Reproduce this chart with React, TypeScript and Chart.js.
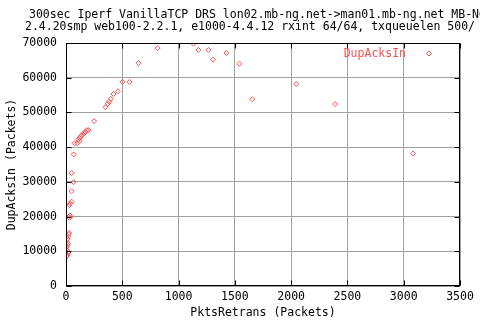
import React, { useEffect, useRef } from "react";
import { Chart, registerables } from "chart.js";

Chart.register(...registerables);

const titleLines = [
  "300sec Iperf VanillaTCP DRS lon02.mb-ng.net->man01.mb-ng.net MB-NG",
  "2.4.20smp web100-2.2.1, e1000-4.4.12 rxint 64/64, txqueuelen 500/",
];
const seriesLabel = "DupAcksIn";
const xAxisTitle = "PktsRetrans (Packets)";
const yAxisTitle = "DupAcksIn (Packets)";

const pktsRetrans = [
  8, 12, 20, 22, 10, 8, 12, 18, 10, 14, 20, 24, 28,
  22, 40, 35, 30, 38, 50, 50, 68, 50,
  68, 76, 100, 121, 110, 120, 130, 140, 150, 160, 171, 186, 201,
  250, 351, 372, 384, 399, 422, 461, 502, 564, 644, 812,
  1132, 1176, 1265, 1307, 1425, 1540, 1655, 2045, 2391, 3083,
];
const dupAcksIn = [
  8600, 8900, 9400, 9800, 10300, 11300, 11800, 12200, 12600, 13500, 14200, 14900, 15300,
  19800, 19800, 20300, 23300, 23800, 24300, 27300, 29900, 32500,
  37900, 41100, 41100, 41700, 42200, 42600, 43000, 43400, 43700, 44000, 44400, 44900, 44900,
  47500, 51500, 52500, 53100, 53900, 55300, 56100, 58800, 58800, 64200, 68500,
  69800, 68000, 68000, 65200, 67100, 64000, 53800, 58200, 52400, 38200,
];

const FONT = "'DejaVu Sans Mono', monospace";
const FONT_SIZE = 11.5;
const RED = "rgb(255,80,80)";

function diamond(ctx: CanvasRenderingContext2D, x: number, y: number, r: number) {
  ctx.beginPath();
  ctx.moveTo(x, y - r);
  ctx.lineTo(x + r, y);
  ctx.lineTo(x, y + r);
  ctx.lineTo(x - r, y);
  ctx.closePath();
  ctx.stroke();
}

const framePlugin = {
  id: "gnuplotFrame",
  afterDraw(chart: any) {
    const ctx = chart.ctx as CanvasRenderingContext2D;
    const { left, right, top, bottom } = chart.chartArea;
    const xs = chart.scales.x;
    const ys = chart.scales.y;
    ctx.save();
    ctx.strokeStyle = "#000";
    ctx.lineWidth = 1;
    const L = Math.round(left) + 0.5;
    const R = Math.round(right) - 0.5;
    const T = Math.round(top) + 0.5;
    const B = Math.round(bottom) - 0.5;
    ctx.strokeRect(L, T, R - L, B - T);
    const tl = 5;
    ctx.beginPath();
    xs.ticks.forEach((t: any) => {
      const px = Math.round(xs.getPixelForValue(t.value)) + 0.5;
      ctx.moveTo(px, B);
      ctx.lineTo(px, B - tl);
      ctx.moveTo(px, T);
      ctx.lineTo(px, T + tl);
    });
    ys.ticks.forEach((t: any) => {
      const py = Math.round(ys.getPixelForValue(t.value)) + 0.5;
      ctx.moveTo(L, py);
      ctx.lineTo(L + tl, py);
      ctx.moveTo(R, py);
      ctx.lineTo(R - tl, py);
    });
    ctx.stroke();

    // legend
    ctx.font = `${FONT_SIZE}px ${FONT}`;
    ctx.fillStyle = RED;
    ctx.textAlign = "right";
    ctx.textBaseline = "middle";
    ctx.fillText(seriesLabel, right - 54, top + 11);
    ctx.strokeStyle = RED;
    diamond(ctx, right - 31, top + 10.5, 2.5);

    // title
    ctx.fillStyle = "#000";
    ctx.textAlign = "left";
    ctx.fillText(titleLines[0], 29, 15);
    ctx.fillText(titleLines[1], 25, 27);
    ctx.restore();
  },
};

export default function App() {
  const ref = useRef<HTMLCanvasElement | null>(null);
  useEffect(() => {
    if (!ref.current) return;
    const points = pktsRetrans.map((x, i) => ({ x, y: dupAcksIn[i] }));
    const font = { family: FONT, size: FONT_SIZE };
    const plain = (v: any) => String(v);
    const chart = new Chart(ref.current, {
      type: "scatter",
      data: {
        datasets: [
          {
            label: seriesLabel,
            data: points,
            pointStyle: "rectRot",
            pointRadius: 2.5,
            pointBorderWidth: 1,
            borderColor: RED,
            backgroundColor: "rgba(0,0,0,0)",
          },
        ],
      },
      options: {
        responsive: false,
        animation: false,
        layout: { padding: { top: 43, right: 20, left: 0, bottom: 0 } },
        plugins: { legend: { display: false }, tooltip: { enabled: false }, title: { display: false } },
        scales: {
          x: {
            type: "linear",
            min: 0,
            max: 3500,
            afterFit: (s: any) => {
              s.height = 34;
            },
            ticks: { stepSize: 500, color: "#000", font, padding: 4, maxRotation: 0, callback: plain },
            grid: { color: "#a0a0a0", drawTicks: false, lineWidth: 1 },
            border: { display: false },
            title: { display: true, text: xAxisTitle, color: "#000", font, padding: { top: 0, bottom: 0 } },
          },
          y: {
            type: "linear",
            min: 0,
            max: 70000,
            afterFit: (s: any) => {
              s.width = 66;
            },
            ticks: { stepSize: 10000, color: "#000", font, padding: 9, callback: plain },
            grid: { color: "#a0a0a0", drawTicks: false, lineWidth: 1 },
            border: { display: false },
            title: { display: true, text: yAxisTitle, color: "#000", font, padding: { top: 5, bottom: 0 } },
          },
        },
      },
      plugins: [framePlugin],
    });
    return () => chart.destroy();
  }, []);
  return (
    <div style={{ position: "absolute", left: 0, top: 0, width: 480, height: 320, background: "#fff" }}>
      <canvas ref={ref} width={480} height={320} style={{ width: 480, height: 320 }} />
    </div>
  );
}
